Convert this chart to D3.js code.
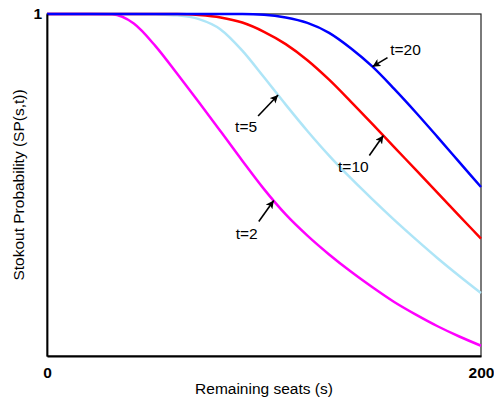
<!DOCTYPE html>
<html>
<head>
<meta charset="utf-8">
<script src="https://cdn.jsdelivr.net/npm/d3@7"></script>
<style>
  html, body { margin: 0; padding: 0; background: #fff; }
  svg { display: block; font-family: "Liberation Sans", Arial, sans-serif; }
</style>
</head>
<body>
<svg id="chart" width="494" height="401"></svg>
<script>
// Remaining seats sampled every 10 seats
const seats = [0, 10, 20, 30, 40, 50, 60, 70, 80, 90, 100, 110, 120, 130, 140, 150, 160, 170, 180, 190, 200];

// Stockout probability SP(s,t) for each remaining time t
const spT2  = [1, 1, 1, 0.999, 0.972, 0.906, 0.825, 0.742, 0.657, 0.571, 0.488, 0.414, 0.352, 0.297, 0.247, 0.201, 0.158, 0.121, 0.087, 0.057, 0.030];
const spT5  = [1, 1, 1, 1, 1, 0.999, 0.996, 0.985, 0.955, 0.893, 0.815, 0.735, 0.658, 0.586, 0.520, 0.458, 0.398, 0.341, 0.286, 0.234, 0.184];
const spT10 = [1, 1, 1, 1, 1, 1, 1.0, 0.997, 0.990, 0.975, 0.948, 0.912, 0.865, 0.808, 0.744, 0.678, 0.611, 0.544, 0.477, 0.410, 0.343];
const spT20 = [1, 1, 1, 1, 1, 1, 1, 1, 1, 1, 0.998, 0.990, 0.974, 0.945, 0.900, 0.846, 0.781, 0.712, 0.640, 0.567, 0.494];

const xTicks = [0, 200];
const yTicks = [1];

// Curve labels and the seat count each arrow points at
const labelNames = ["t=2", "t=5", "t=10", "t=20"];
const arrowSeats = [104.5, 106.5, 155, 150];

const series = [
  { name: "t=2",  values: spT2,  color: "#ff00ff" },
  { name: "t=5",  values: spT5,  color: "#aee5f7" },
  { name: "t=10", values: spT10, color: "#ff0000" },
  { name: "t=20", values: spT20, color: "#0000ff" }
];

const svg = d3.select("#chart");
const margin = { left: 47, right: 13, top: 14, bottom: 45 };
const W = 494, H = 401;

const x = d3.scaleLinear().domain([0, 200]).range([margin.left, W - margin.right]);
const y = d3.scaleLinear().domain([0, 1]).range([H - margin.bottom, margin.top]);

const fontSize = 15.5;

// Plot frame
svg.append("rect")
  .attr("x", x(0)).attr("y", y(1))
  .attr("width", x(200) - x(0)).attr("height", y(0) - y(1))
  .attr("fill", "none").attr("stroke", "#222").attr("stroke-width", 1.2);

// Curves
const line = d3.line()
  .x((d, i) => x(seats[i]))
  .y(d => y(d))
  .curve(d3.curveMonotoneX);

svg.append("g").selectAll("path")
  .data(series)
  .join("path")
  .attr("d", d => line(d.values))
  .attr("fill", "none")
  .attr("stroke", d => d.color)
  .attr("stroke-width", 2.5)
  .attr("stroke-linejoin", "round");

// Axes
const xAxis = svg.append("g")
  .attr("transform", `translate(0,${y(0)})`)
  .call(d3.axisBottom(x).tickValues(xTicks).tickSize(0).tickPadding(11).tickFormat(d3.format("d")));
xAxis.select(".domain").attr("stroke", "#000").attr("stroke-width", 1.8);
xAxis.selectAll("text")
  .attr("font-size", fontSize).attr("font-weight", "bold").attr("fill", "#000")
  .attr("font-family", "Liberation Sans, Arial, sans-serif");

const yAxis = svg.append("g")
  .attr("transform", `translate(${x(0)},0)`)
  .call(d3.axisLeft(y).tickValues(yTicks).tickSize(0).tickPadding(5).tickFormat(d3.format("d")));
yAxis.select(".domain").attr("stroke", "#000").attr("stroke-width", 1.8);
yAxis.selectAll("text")
  .attr("font-size", fontSize).attr("font-weight", "bold").attr("fill", "#000")
  .attr("font-family", "Liberation Sans, Arial, sans-serif");

// Axis titles
svg.append("text")
  .attr("x", (x(0) + x(200)) / 2).attr("y", 394)
  .attr("text-anchor", "middle").attr("font-size", fontSize)
  .text("Remaining seats (s)");

svg.append("text")
  .attr("transform", `translate(24,${(y(0) + y(1)) / 2}) rotate(-90)`)
  .attr("text-anchor", "middle").attr("font-size", fontSize)
  .text("Stokout Probability (SP(s,t))");

// Arrow head marker
svg.append("defs").append("marker")
  .attr("id", "arrowhead")
  .attr("viewBox", "0 0 10 10")
  .attr("refX", 10).attr("refY", 5)
  .attr("markerWidth", 5).attr("markerHeight", 5)
  .attr("markerUnits", "strokeWidth")
  .attr("orient", "auto")
  .append("path")
  .attr("d", "M0,0 L10,5 L0,10 L2.5,5 Z")
  .attr("fill", "#000");

// Value of a series at an arbitrary seat count (linear between samples)
function valueAt(values, s) {
  const i = Math.min(seats.length - 2, Math.floor(s / 10));
  const f = (s - seats[i]) / (seats[i + 1] - seats[i]);
  return values[i] + f * (values[i + 1] - values[i]);
}

// Label placement relative to arrow tip: [tail dx, tail dy, text x offset, text baseline offset]
const labelLayout = [
  [-15, 21, -27, 39],
  [-20, 21, -32, 37],
  [-14, 20, -30, 36],
  [15, -9, 33, -12]
];

series.forEach((s, k) => {
  const sx = arrowSeats[k];
  const tipX = x(sx), tipY = y(valueAt(s.values, sx));
  const L = labelLayout[k];
  svg.append("line")
    .attr("x1", tipX + L[0]).attr("y1", tipY + L[1])
    .attr("x2", tipX).attr("y2", tipY)
    .attr("stroke", "#000").attr("stroke-width", 1.6)
    .attr("marker-end", "url(#arrowhead)");
  svg.append("text")
    .attr("x", tipX + L[2]).attr("y", tipY + L[3])
    .attr("text-anchor", "middle").attr("font-size", fontSize)
    .text(labelNames[k]);
});
</script>
</body>
</html>
